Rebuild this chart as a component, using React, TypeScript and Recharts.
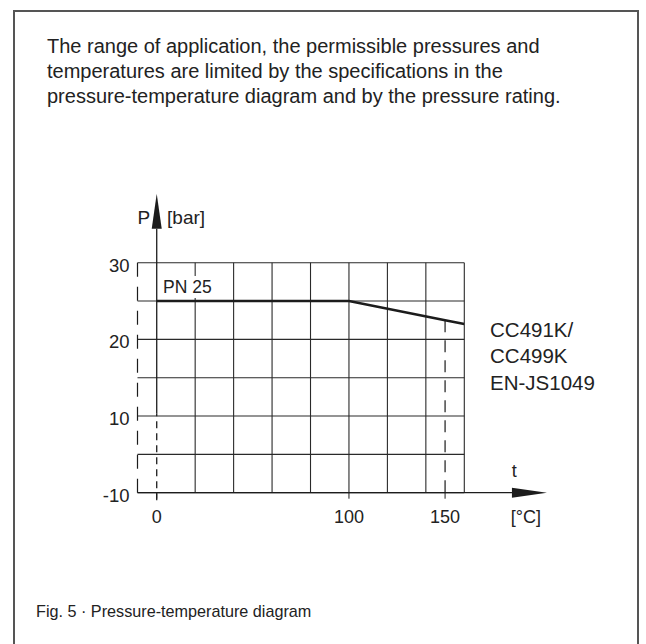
import { ComposedChart, Line, XAxis, YAxis, ReferenceLine, ReferenceDot } from 'recharts';

const TEMPS = [0, 100, 150, 160];
const PRESSURES = [25, 25, 22.5, 22];
const T_TICKS = [0, 100, 150];
const P_TICKS = [0, 10, 20, 30];
const P_TICK_LABELS = ['-10', '10', '20', '30'];
const T_GRID = [20, 40, 60, 80, 100, 120, 140, 160];
const P_GRID = [0, 5, 10, 15, 20, 25, 30];
const MATERIALS = ['CC491K/', 'CC499K', 'EN-JS1049'];

const data = TEMPS.map((t, i) => ({ t, p: PRESSURES[i] }));

const INK = '#1c1c1c';
const FONT = '"Liberation Sans", Arial, sans-serif';

// line with a filled arrow head at (x2, y2)
const Arrow = (props: any) => {
  const { x1, y1, x2, y2 } = props;
  const dx = x2 - x1;
  const dy = y2 - y1;
  const len = Math.hypot(dx, dy) || 1;
  const ux = dx / len;
  const uy = dy / len;
  const hl = 35;
  const hw = 5;
  const bx = x2 - ux * hl;
  const by = y2 - uy * hl;
  const pts = `${x2},${y2} ${bx - uy * hw},${by + ux * hw} ${bx + uy * hw},${by - ux * hw}`;
  return (
    <g>
      <line x1={x1} y1={y1} x2={bx} y2={by} stroke={INK} strokeWidth={1.3} />
      <polygon points={pts} fill={INK} />
    </g>
  );
};

const label = (text: string, size = 18, anchor: any = 'start') => (props: any) => (
  <text x={props.cx} y={props.cy} textAnchor={anchor} fontSize={size} fill="#222" fontFamily={FONT}>
    {text}
  </text>
);

// PN label sits on a white patch that hides the grid behind it
const pnLabel = (props: any) => (
  <g>
    <rect x={props.cx - 3} y={props.cy - 17} width={56} height={22} fill="#fff" />
    <text x={props.cx} y={props.cy} fontSize={17.5} fill="#222" fontFamily={FONT}>
      PN 25
    </text>
  </g>
);

const materialLabel = (props: any) => (
  <text x={props.cx} y={props.cy} fontSize={20.5} fill="#222" fontFamily={FONT}>
    {MATERIALS.map((m, i) => (
      <tspan key={m} x={props.cx} dy={i === 0 ? 0 : 26.3}>
        {m}
      </tspan>
    ))}
  </text>
);

export default function App() {
  return (
    <div
      style={{
        position: 'absolute',
        left: 0,
        top: 0,
        width: 646,
        height: 644,
        overflow: 'hidden',
        background: '#fff',
        fontFamily: FONT,
        color: '#222',
      }}
    >
      <div
        style={{
          position: 'absolute',
          left: 13,
          top: 10,
          width: 622,
          height: 700,
          border: '2px solid #555',
        }}
      />
      <div style={{ position: 'absolute', left: 47, top: 34, fontSize: 20, lineHeight: '25px' }}>
        The range of application, the permissible pressures and
        <br />
        temperatures are limited by the specifications in the
        <br />
        pressure-temperature diagram and by the pressure rating.
      </div>
      <div style={{ position: 'absolute', left: 36, top: 600, fontSize: 16.2, lineHeight: '22px' }}>
        Fig. 5 · Pressure-temperature diagram
      </div>

      <div style={{ position: 'absolute', left: 0, top: 0 }}>
        <ComposedChart
          width={646}
          height={644}
          data={data}
          margin={{ top: 262.7, right: 181.7, bottom: 121.3, left: 97.5 }}
        >
          <XAxis
            type="number"
            dataKey="t"
            domain={[-10, 160]}
            allowDataOverflow
            ticks={T_TICKS}
            axisLine={false}
            tickLine={{ stroke: INK }}
            tickSize={6}
            tickMargin={12}
            tick={{ fontSize: 18, fill: '#222', fontFamily: FONT }}
            interval={0}
          />
          <YAxis
            type="number"
            domain={[0, 30]}
            allowDataOverflow
            ticks={P_TICKS}
            width={40}
            axisLine={false}
            tickLine={false}
            tickFormatter={(v: number) => P_TICK_LABELS[P_TICKS.indexOf(v)]}
            tick={{ fontSize: 18.5, fill: '#222', fontFamily: FONT, dy: 2.5 }}
            interval={0}
          />

          {P_GRID.map((v) => (
            <ReferenceLine key={`h${v}`} y={v} stroke="#2a2a2a" strokeWidth={1.1} ifOverflow="visible" />
          ))}
          {T_GRID.map((v) => (
            <ReferenceLine key={`v${v}`} x={v} stroke="#2a2a2a" strokeWidth={1.1} ifOverflow="visible" />
          ))}

          {/* dashed left border of the grid */}
          <ReferenceLine
            segment={[{ x: -10, y: 30 }, { x: -10, y: 0 }]}
            stroke={INK}
            strokeWidth={1.2}
            strokeDasharray="14 10"
            ifOverflow="visible"
          />
          {/* pressure axis */}
          <ReferenceLine
            segment={[{ x: 0, y: 10.3 }, { x: 0, y: 39 }]}
            ifOverflow="visible"
            shape={Arrow}
          />
          <ReferenceLine
            segment={[{ x: 0, y: -1 }, { x: 0, y: 10.3 }]}
            stroke={INK}
            strokeWidth={1.3}
            strokeDasharray="7 5"
            ifOverflow="visible"
          />
          {/* temperature axis */}
          <ReferenceLine
            segment={[{ x: -10, y: 0 }, { x: 203, y: 0 }]}
            ifOverflow="visible"
            shape={Arrow}
          />
          {/* 150 °C marker */}
          <ReferenceLine
            segment={[{ x: 150, y: 22.5 }, { x: 150, y: -0.8 }]}
            stroke={INK}
            strokeWidth={1.2}
            strokeDasharray="12 8"
            ifOverflow="visible"
          />

          <ReferenceDot x={3.3} y={26.05} ifOverflow="visible" shape={pnLabel} />

          <Line
            type="linear"
            dataKey="p"
            stroke={INK}
            strokeWidth={2.6}
            dot={false}
            activeDot={false}
            isAnimationActive={false}
          />

          <ReferenceDot x={-10} y={35} ifOverflow="visible" shape={label('P', 19)} />
          <ReferenceDot x={5.4} y={35} ifOverflow="visible" shape={label('[bar]', 19)} />
          <ReferenceDot x={186} y={2.1} ifOverflow="visible" shape={label('t', 18, 'middle')} />
          <ReferenceDot x={192} y={-3.9} ifOverflow="visible" shape={label('[°C]', 18, 'middle')} />
          <ReferenceDot x={173.4} y={20.3} ifOverflow="visible" shape={materialLabel} />
        </ComposedChart>
      </div>
    </div>
  );
}
